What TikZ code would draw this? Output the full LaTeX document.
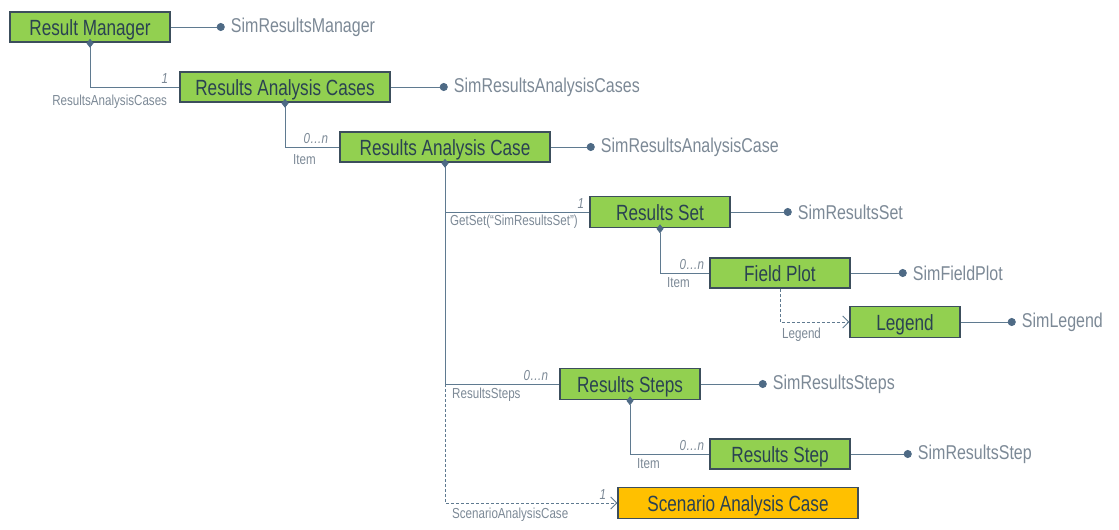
\documentclass[tikz,border=0pt]{standalone}
\usepackage{fontspec}
\setmainfont{Liberation Sans}
\newfontfamily\narrowfont[FakeStretch=0.8]{Liberation Sans}
\newfontfamily\boxfont[FakeStretch=0.78]{Liberation Sans}
\usepackage{xcolor}
\usetikzlibrary{arrows.meta, positioning, calc}

\definecolor{boxgreen}{HTML}{92D050}
\definecolor{boxorange}{HTML}{FFC000}
\definecolor{boxedge}{HTML}{3C4E5C}
\definecolor{boxtext}{HTML}{2A4252}
\definecolor{linkblue}{HTML}{5F7A90}
\definecolor{dotblue}{HTML}{4E6A85}
\definecolor{labelgray}{HTML}{7C8996}

\tikzset{
    classbox/.style={draw=boxedge, line width=1.5pt, fill=boxgreen, inner sep=0pt,
        minimum height=30pt, text height=17pt, text depth=0pt, text=boxtext,
        font=\boxfont\fontsize{22}{22}\selectfont},
    simname/.style={inner sep=0pt, anchor=west, text=labelgray,
        font=\narrowfont\fontsize{20}{20}\selectfont},
    rolename/.style={inner sep=0pt, text=labelgray, font=\narrowfont\fontsize{14.5}{14.5}\selectfont},
    multname/.style={inner sep=0pt, text=labelgray, font=\narrowfont\itshape\fontsize{14.5}{14.5}\selectfont},
    link/.style={draw=linkblue, line width=0.8pt},
    owns/.style={link, {Diamond[width=7pt, length=9pt, fill=dotblue, color=dotblue]}-},
    refers/.style={link, dash pattern=on 3pt off 2pt, -{Straight Barb[length=6pt, width=12pt]}},
    simdot/.style={link, -{Circle[length=8pt, color=dotblue]}}
}

\begin{document}
\begin{tikzpicture}[x=1pt, y=-1pt]
    \useasboundingbox (0,0) rectangle (1119,530);

    % class boxes
    \node[classbox, minimum width=160pt] (mgr) at (90,27) {Result Manager};
    \node[classbox, minimum width=210pt] (cases) at (285,87) {Results Analysis Cases};
    \node[classbox, minimum width=210pt] (case) at (445,147) {Results Analysis Case};
    \node[classbox, minimum width=140pt, minimum height=31pt] (set) at (660,212) {Results Set};
    \node[classbox, minimum width=140pt] (fplot) at (780,273) {Field Plot};
    \node[classbox, minimum width=110pt, minimum height=31pt] (legend) at (905,322) {Legend};
    \node[classbox, minimum width=140pt, minimum height=31pt] (steps) at (630,384) {Results Steps};
    \node[classbox, minimum width=140pt] (step) at (780,454) {Results Step};
    \node[classbox, fill=boxorange, minimum width=240pt, minimum height=31pt] (scen) at (738,503) {Scenario Analysis Case};

    % sim object names
    \node[simname, right=60pt of mgr] (mgrsim) {SimResultsManager};
    \node[simname, right=63pt of cases] (casessim) {SimResultsAnalysisCases};
    \node[simname, right=50pt of case] (casesim) {SimResultsAnalysisCase};
    \node[simname, right=67pt of set] (setsim) {SimResultsSet};
    \node[simname, right=62pt of fplot] (fplotsim) {SimFieldPlot};
    \node[simname, right=61pt of legend] (legendsim) {SimLegend};
    \node[simname, right=72pt of steps] (stepssim) {SimResultsSteps};
    \node[simname, right=67pt of step] (stepsim) {SimResultsStep};

    \foreach \cls in {mgr, cases, case, set, fplot, legend, steps, step}
        \draw[simdot] (\cls.east) -- ([xshift=-6pt]\cls sim.west);

    % ownership links
    \draw[owns] ([yshift=4pt]mgr.south) |- (cases.west);
    \draw[owns] ([yshift=4pt]cases.south) |- (case.west);
    \draw[owns] ([yshift=4pt]case.south) |- (steps.west);
    \draw[link] (case.south |- set.west) -- (set.west);
    \draw[owns] ([yshift=4pt]set.south) |- (fplot.west);
    \draw[owns] ([yshift=4pt]steps.south) |- (step.west);

    % references
    \draw[refers] (case.south |- steps.west) |- (scen.west);
    \draw[refers] (fplot.south) |- (legend.west);

    % multiplicities
    \node[multname, anchor=south east] at ([xshift=-11pt, yshift=3pt]cases.west) {1};
    \node[multname, anchor=south east] at ([xshift=-11pt, yshift=3pt]case.west) {0\dots n};
    \node[multname, anchor=south east] at ([xshift=-5pt, yshift=3pt]set.west) {1};
    \node[multname, anchor=south east] at ([xshift=-5pt, yshift=3pt]fplot.west) {0\dots n};
    \node[multname, anchor=south east] at ([xshift=-11pt, yshift=3pt]steps.west) {0\dots n};
    \node[multname, anchor=south east] at ([xshift=-5pt, yshift=3pt]step.west) {0\dots n};
    \node[multname, anchor=south east] at ([xshift=-11pt, yshift=3pt]scen.west) {1};

    % role names
    \node[rolename, anchor=north east] at ([xshift=-12pt, yshift=-8pt]cases.west) {ResultsAnalysisCases};
    \node[rolename, anchor=north west] at ([xshift=8pt, yshift=-7pt]case.west -| cases.south) {Item};
    \node[rolename, anchor=north west] at ([xshift=5pt, yshift=-3pt]set.west -| case.south) {GetSet(“SimResultsSet”)};
    \node[rolename, anchor=north west] at ([xshift=7pt, yshift=-4pt]fplot.west -| set.south) {Item};
    \node[rolename, anchor=north west] at ([xshift=2pt, yshift=-6pt]legend.west -| fplot.south) {Legend};
    \node[rolename, anchor=north west] at ([xshift=7pt, yshift=-4pt]steps.west -| case.south) {ResultsSteps};
    \node[rolename, anchor=north west] at ([xshift=7pt, yshift=-4pt]step.west -| steps.south) {Item};
    \node[rolename, anchor=north west] at ([xshift=7pt, yshift=-5pt]scen.west -| case.south) {ScenarioAnalysisCase};
\end{tikzpicture}
\end{document}
